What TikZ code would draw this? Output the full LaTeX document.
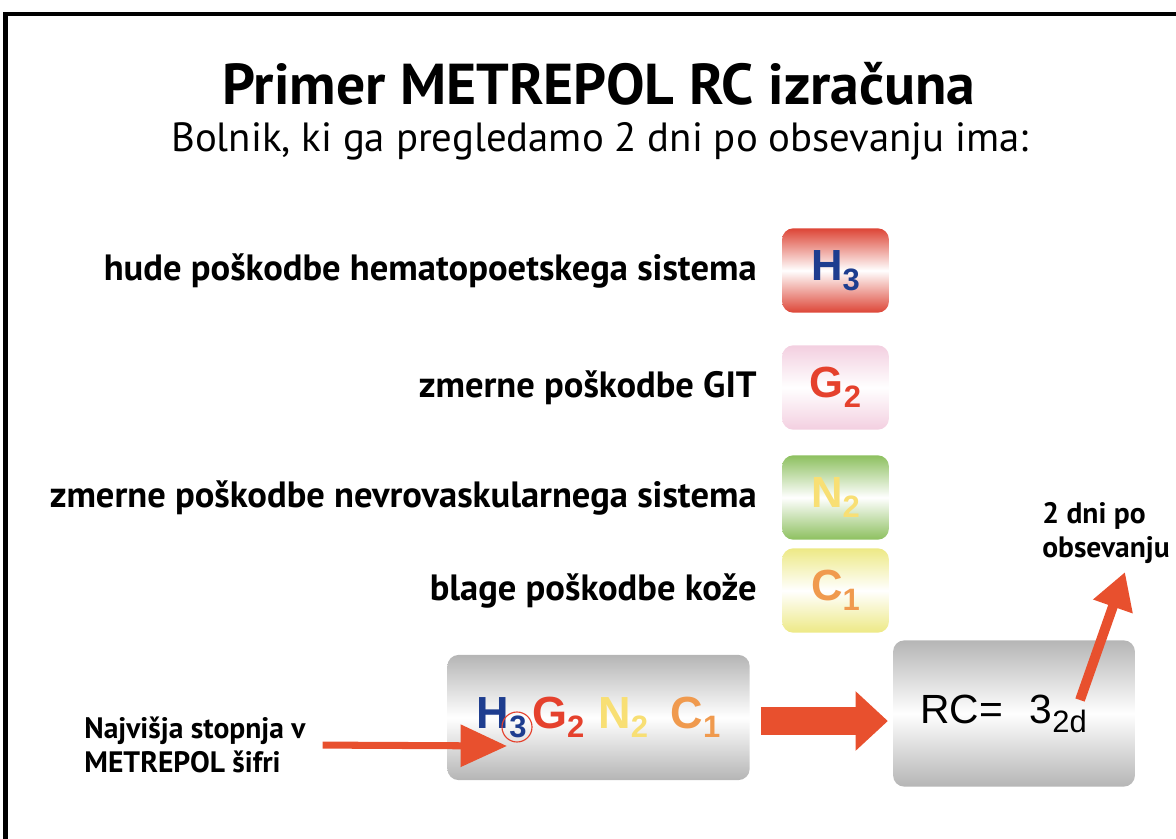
\documentclass[tikz,border=0pt]{standalone}
\usepackage{fontspec}
\setmainfont{PT Sans}
\newfontfamily\arial{Liberation Sans}
\usetikzlibrary{positioning,arrows.meta}
\definecolor{arrowred}{HTML}{E8502E}
\definecolor{hblue}{HTML}{1E3D8F}
\definecolor{gred}{HTML}{E5412D}
\definecolor{nyel}{HTML}{F8DF74}
\definecolor{corg}{HTML}{F09A4E}
\definecolor{hbox}{HTML}{DD4536}
\definecolor{gbox}{HTML}{F3CFE0}
\definecolor{nbox}{HTML}{8DC05F}
\definecolor{cbox}{HTML}{EDE985}
\definecolor{graybox}{HTML}{B5B5B5}
\newcommand\lvl[3]{\textcolor{#1}{#2\raisebox{-7pt}{\fontsize{22}{22}\selectfont#3}}}
\tikzset{
  codebox/.style={rounded corners=8pt, minimum width=76pt, minimum height=60pt,
    shading=axis, top color=#1, bottom color=#1, middle color=white,
    font=\arial\bfseries\fontsize{31}{31}\selectfont},
  lab/.style={inner sep=0pt, font=\bfseries\fontsize{26}{30}\selectfont},
  note/.style={inner sep=0pt, align=left, font=\bfseries\fontsize{21}{24}\selectfont},
  arr/.style={arrowred, line width=5pt, -{Triangle[length=33pt,width=29pt]}}
}
\begin{document}
\begin{tikzpicture}[x=0.025cm,y=-0.025cm]
\useasboundingbox (0,0) rectangle (1176,839);
\draw[line width=3pt] (5.5,839) -- (5.5,14) -- (1176,14);
\node[font=\bfseries\fontsize{41}{44}\selectfont] (title) at (599,84) {Primer METREPOL RC izračuna};
\node[font=\fontsize{29}{32}\selectfont] (sub) at (600,141) {Bolnik, ki ga pregledamo 2 dni po obsevanju ima:};
\node[codebox=hbox] (h) at (835.5,270.5) {\raisebox{2.3pt}{\lvl{hblue}{H}{3}}};
\node[codebox=gbox] (g) at (835.5,387.5) {\raisebox{2.3pt}{\lvl{gred}{G}{2}}};
\node[codebox=nbox] (n) at (835.5,497.5) {\raisebox{2.3pt}{\lvl{nyel}{N}{2}}};
\node[codebox=cbox] (c) at (835.5,590.5) {\raisebox{2.3pt}{\lvl{corg}{C}{1}}};
\node[lab, left=0.62cm of h] (lh) {hude poškodbe hematopoetskega sistema};
\node[lab, left=0.62cm of g] (lg) {zmerne poškodbe GIT};
\node[lab, left=0.62cm of n] (ln) {zmerne poškodbe nevrovaskularnega sistema};
\node[lab, left=0.62cm of c] (lc) {blage poškodbe kože};
\node[codebox=graybox, minimum width=215pt, minimum height=89pt, font=\arial\bfseries\fontsize{32}{32}\selectfont] (sifra) at (598.5,717.5)
  {\raisebox{1.2pt}{\lvl{hblue}{H}{3}\hspace{4pt}\lvl{gred}{G}{2}\hspace{10pt}\lvl{nyel}{N}{2}\hspace{16pt}\lvl{corg}{C}{1}}};
\draw[gred, line width=0.8pt] (517,727) circle (0.375cm);
\node[codebox=graybox, minimum width=172pt, minimum height=104pt, font=\arial\fontsize{29}{29}\selectfont] (rc) at (1014,713.5)
  {\raisebox{3.5pt}{RC=\hspace{19pt}3\raisebox{-6.4pt}{\fontsize{22}{22}\selectfont 2d}}\hspace*{15pt}};
\draw[arrowred, line width=20.5pt, -{Triangle[length=23pt,width=41pt]}, shorten <=7.8pt, shorten >=3.5pt]
  ([yshift=-2.5pt]sifra.east) -- ([yshift=-2.5pt]sifra.east -| rc.west);
\node[note] (naj) at (195,745) {Najvišja stopnja v\\METREPOL šifri};
\coordinate (najtip) at (507,746);
\draw[arr, shorten <=12pt] (naj.east) -- (najtip);
\node[note] (dni) at (1106,533) {2 dni po\\obsevanju};
\coordinate (upstart) at (1080,700);
\coordinate (uptip) at (1125,572);
\draw[arr, line width=7pt, -{Triangle[length=26pt,width=28pt]}] (upstart) -- (uptip);
\end{tikzpicture}
\end{document}
